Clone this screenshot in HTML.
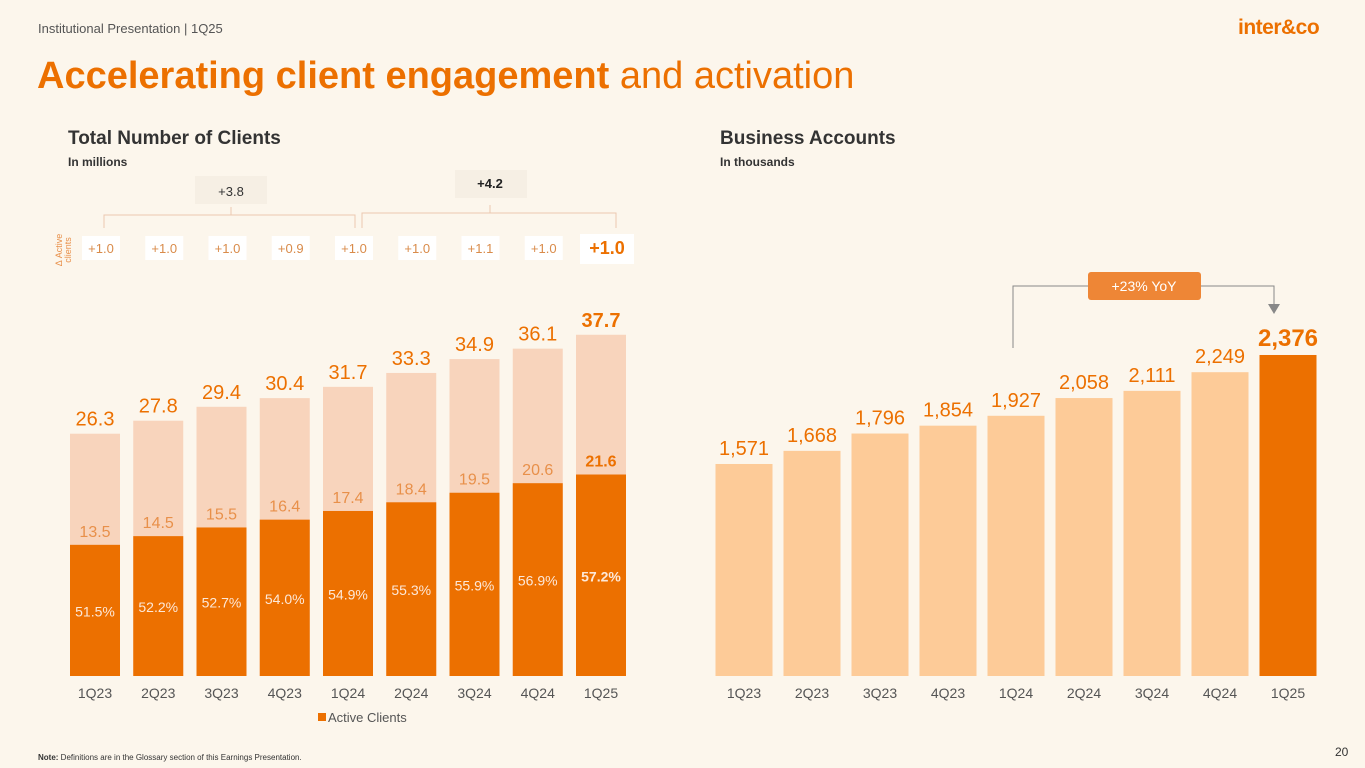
<!DOCTYPE html>
<html><head><meta charset="utf-8"><style>
body{margin:0;width:1365px;height:768px;background:#FCF6EC;font-family:"Liberation Sans",sans-serif;overflow:hidden;position:relative}
.t{position:absolute;white-space:nowrap}
</style></head><body>
<div class="t" style="left:38px;top:21px;font-size:13px;color:#555">Institutional Presentation | 1Q25</div>
<div class="t" style="left:1238px;top:16px;font-size:21px;font-weight:bold;color:#EC7000;letter-spacing:-0.5px">inter&amp;co</div>
<div class="t" style="left:37px;top:55px;font-size:38px;color:#EC7000"><b>Accelerating client engagement</b> and activation</div>
<div class="t" style="left:68px;top:128px;font-size:19px;color:#333;font-weight:600">Total Number of Clients</div>
<div class="t" style="left:68px;top:155px;font-size:12px;color:#333;font-weight:bold">In millions</div>
<div class="t" style="left:720px;top:128px;font-size:19px;color:#333;font-weight:600">Business Accounts</div>
<div class="t" style="left:720px;top:155px;font-size:12px;color:#333;font-weight:bold">In thousands</div>
<div class="t" style="left:38px;top:753px;font-size:8px;color:#333"><b>Note:</b> Definitions are in the Glossary section of this Earnings Presentation.</div>
<div class="t" style="left:1335px;top:745px;font-size:12px;color:#333">20</div>
<svg id="c" width="1365" height="768" style="position:absolute;left:0;top:0"></svg>
<script>
const quarters=["1Q23","2Q23","3Q23","4Q23","1Q24","2Q24","3Q24","4Q24","1Q25"];
const totalClients=[26.3,27.8,29.4,30.4,31.7,33.3,34.9,36.1,37.7];
const activeClients=[13.5,14.5,15.5,16.4,17.4,18.4,19.5,20.6,21.6];
const activeRate=["51.5%","52.2%","52.7%","54.0%","54.9%","55.3%","55.9%","56.9%","57.2%"];
const activeDeltas=["+1.0","+1.0","+1.0","+0.9","+1.0","+1.0","+1.1","+1.0","+1.0"];
const businessAccounts=[1571,1668,1796,1854,1927,2058,2111,2249,2376];
const NS="http://www.w3.org/2000/svg";const svg=document.getElementById('c');
function mk(tag,attrs,txt){const e=document.createElementNS(NS,tag);for(const k in attrs)e.setAttribute(k,attrs[k]);if(txt!==undefined)e.textContent=txt;svg.appendChild(e);return e;}
const F='"Liberation Sans",sans-serif';
const lx=i=>95+i*63.25, ly=v=>662-8.68*v, base=676, lw=50;
quarters.forEach((q,i)=>{
 const last=i===8;
 let e=mk('rect',{x:lx(i)-lw/2,y:ly(totalClients[i]),width:lw,height:base-ly(totalClients[i]),fill:'#F8D4BC'});
 
 e=mk('rect',{x:lx(i)-lw/2,y:ly(activeClients[i]),width:lw,height:base-ly(activeClients[i]),fill:'#EC7000'});
 
 e=mk('text',{x:lx(i),y:ly(totalClients[i])-8,'text-anchor':'middle','font-size':20,fill:'#EC7000','font-weight':last?'bold':'normal','font-family':F},totalClients[i].toFixed(1));
 
 e=mk('text',{x:lx(i),y:ly(activeClients[i])-8,'text-anchor':'middle','font-size':16,fill:last?'#EC7000':'#E8904A','font-weight':last?'bold':'normal','font-family':F},activeClients[i].toFixed(1));
 
 e=mk('text',{x:lx(i),y:(ly(activeClients[i])+base)/2+6,'text-anchor':'middle','font-size':14,fill:'#FDE8D8','font-weight':last?'bold':'normal','font-family':F},activeRate[i]);
 
 e=mk('text',{x:lx(i),y:698,'text-anchor':'middle','font-size':14,fill:'#555','font-family':F},q);
 
 const bw=last?54:38,bh=last?30:24;
 e=mk('rect',{x:lx(i)+6-bw/2,y:last?234:236,width:bw,height:bh,fill:'#fff'});
 
 e=mk('text',{x:lx(i)+6,y:last?254:253,'text-anchor':'middle','font-size':last?18:13,fill:last?'#EC7000':'#D98B4A','font-weight':last?'bold':'normal','font-family':F},activeDeltas[i]);
 
});
let e=mk('text',{transform:'translate(62,250) rotate(-90)','text-anchor':'middle','font-size':9,fill:'#E8904A','font-family':F},'Δ Active');

e=mk('text',{transform:'translate(71,250) rotate(-90)','text-anchor':'middle','font-size':9,fill:'#E8904A','font-family':F},'clients');

e=mk('path',{d:'M104,228 V215 H355 V228 M231,215 V207',stroke:'#EBC8B0',fill:'none'});

e=mk('path',{d:'M362,228 V213 H616 V228 M490,213 V205',stroke:'#EBC8B0',fill:'none'});

e=mk('rect',{x:195,y:176,width:72,height:28,fill:'#F6EFE4'});
e=mk('text',{x:231,y:196,'text-anchor':'middle','font-size':13,fill:'#333','font-family':F},'+3.8');
e=mk('rect',{x:455,y:170,width:72,height:28,fill:'#F6EFE4'});
e=mk('text',{x:490,y:188,'text-anchor':'middle','font-size':13,'font-weight':'bold',fill:'#222','font-family':F},'+4.2');
e=mk('rect',{x:318,y:713,width:8,height:8,fill:'#EC7000'});
e=mk('text',{x:328,y:722,'font-size':13,fill:'#555','font-family':F},'Active Clients');
const rx=i=>744+i*68, ry=v=>676.7-0.1354*v, rw=57;
quarters.forEach((q,i)=>{
 const last=i===8;
 let e=mk('rect',{x:rx(i)-rw/2,y:ry(businessAccounts[i]),width:rw,height:676-ry(businessAccounts[i]),fill:last?'#EC7000':'#FDCB98'});
 
 e=mk('text',{x:rx(i),y:ry(businessAccounts[i])-9,'text-anchor':'middle','font-size':last?24:20,fill:'#EC7000','font-weight':last?'bold':'normal','font-family':F},businessAccounts[i].toLocaleString('en-US'));
 
 e=mk('text',{x:rx(i),y:698,'text-anchor':'middle','font-size':14,fill:'#555','font-family':F},q);
 
});
e=mk('path',{d:'M1013,348 V286 H1274 V306',stroke:'#888',fill:'none'});
e=mk('path',{d:'M1268,304 L1280,304 L1274,314 Z',fill:'#888'});
e=mk('rect',{x:1088,y:272,width:113,height:28,rx:3,fill:'#EE8636'});
e=mk('text',{x:1144,y:291,'text-anchor':'middle','font-size':14,fill:'#fff','font-family':F},'+23% YoY');
</script>
</body></html>
